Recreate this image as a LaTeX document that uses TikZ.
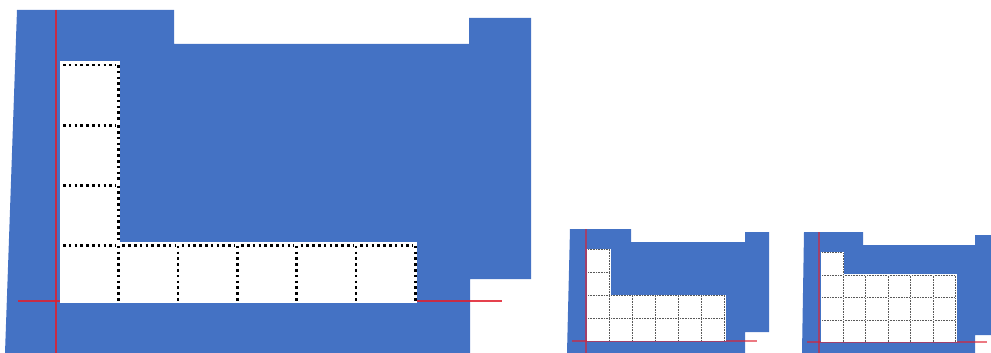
\documentclass[tikz,border=0pt]{standalone}
\usetikzlibrary{calc}
\definecolor{SlideBlue}{HTML}{4472C4}
\definecolor{AxisRed}{HTML}{E0202E}

\begin{document}
\begin{tikzpicture}[x=1pt,y=-1pt,line cap=butt,line join=miter,
  bigdots/.style={black,line width=2.6pt,dash pattern=on 2.6pt off 3.2pt},
  smalldots/.style={black!65,line width=0.8pt,dash pattern=on 0.8pt off 0.8pt},
  bigaxis/.style={AxisRed,opacity=0.85,line width=1.8pt},
  smallaxis/.style={AxisRed,opacity=0.6,line width=1.2pt}]

\useasboundingbox (0,0) rectangle (991,353);

% ---- LARGE PANEL ----
\def\bigx{60}       % left edge of cells
\def\bigy{303}      % bottom edge of cells
\def\bigpx{59.4}    % cell pitch (horizontal)
\def\bigpy{60.25}   % cell pitch (vertical)

% Blue outline shape
\fill[SlideBlue] (17,10) -- (174,10) -- (174,44) -- (469,44) -- (469,18) -- (531,18)
  -- (531,279) -- (470,279) -- (470,353) -- (5,353) -- cycle;

% Axes (behind the cells)
\coordinate (BigOrigin) at (56,301);
\draw[bigaxis] (56,10) -- (56,353);
\draw[bigaxis] (18,301) -- (502,301);

% Cells (col/row, row 0 at bottom)
\foreach \c/\r in {0/0,1/0,2/0,3/0,4/0,5/0,0/1,0/2,0/3} {
  \fill[white] (\bigx+\c*\bigpx,\bigy-\r*\bigpy) rectangle ++(\bigpx+1,-\bigpy-1);
}
\foreach \c/\r in {0/0,1/0,2/0,3/0,4/0,5/0,0/1,0/2,0/3} {
  \draw[bigdots] (\bigx+\c*\bigpx+3,\bigy-\r*\bigpy-\bigpy+3) -- ++(\bigpx-7,0);
  \draw[bigdots] (\bigx+\c*\bigpx+\bigpx-1,\bigy-\r*\bigpy-\bigpy+3) -- ++(0,\bigpy-3);
}

% ---- SMALL PANEL (TWO ROWS) ----
\def\sax{587}
\def\say{341}
\def\sap{23}

\fill[SlideBlue] (570,229) -- (631,229) -- (631,242) -- (745,242) -- (745,232) -- (769,232)
  -- (769,332) -- (745,332) -- (745,353) -- (567,353) -- cycle;

\coordinate (SmallOriginA) at (586,341);
\draw[smallaxis] (586,229) -- (586,353);
\draw[smallaxis] (572,341) -- (757,341);

\foreach \c/\r in {0/0,1/0,2/0,3/0,4/0,5/0,0/1,1/1,2/1,3/1,4/1,5/1,0/2,0/3} {
  \fill[white] (\sax+\c*\sap,\say-\r*\sap) rectangle ++(\sap+0.5,-\sap-0.5);
}
\foreach \c/\r in {0/0,1/0,2/0,3/0,4/0,5/0,0/1,1/1,2/1,3/1,4/1,5/1,0/2,0/3} {
  \draw[smalldots] (\sax+\c*\sap+1,\say-\r*\sap-\sap+0.8) -- ++(\sap-2,0);
  \draw[smalldots] (\sax+\c*\sap+\sap-0.5,\say-\r*\sap-\sap+1) -- ++(0,\sap-1);
}

% ---- SMALL PANEL (THREE ROWS) ----
\def\sbx{821}
\def\sby{342}
\def\sbp{22.5}

\fill[SlideBlue] (804,232) -- (863,232) -- (863,245) -- (975,245) -- (975,235) -- (991,235)
  -- (991,335) -- (975,335) -- (975,353) -- (802,353) -- cycle;

\coordinate (SmallOriginB) at (819,342);
\draw[smallaxis] (819,232) -- (819,353);
\draw[smallaxis] (807,342) -- (987,342);

\foreach \c/\r in {0/0,1/0,2/0,3/0,4/0,5/0,0/1,1/1,2/1,3/1,4/1,5/1,0/2,1/2,2/2,3/2,4/2,5/2,0/3} {
  \fill[white] (\sbx+\c*\sbp,\sby-\r*\sbp) rectangle ++(\sbp+0.5,-\sbp-0.5);
}
\foreach \c/\r in {0/0,1/0,2/0,3/0,4/0,5/0,0/1,1/1,2/1,3/1,4/1,5/1,0/2,1/2,2/2,3/2,4/2,5/2,0/3} {
  \draw[smalldots] (\sbx+\c*\sbp+1,\sby-\r*\sbp-\sbp+0.8) -- ++(\sbp-2,0);
  \draw[smalldots] (\sbx+\c*\sbp+\sbp-0.5,\sby-\r*\sbp-\sbp+1) -- ++(0,\sbp-1);
}

\end{tikzpicture}
\end{document}
